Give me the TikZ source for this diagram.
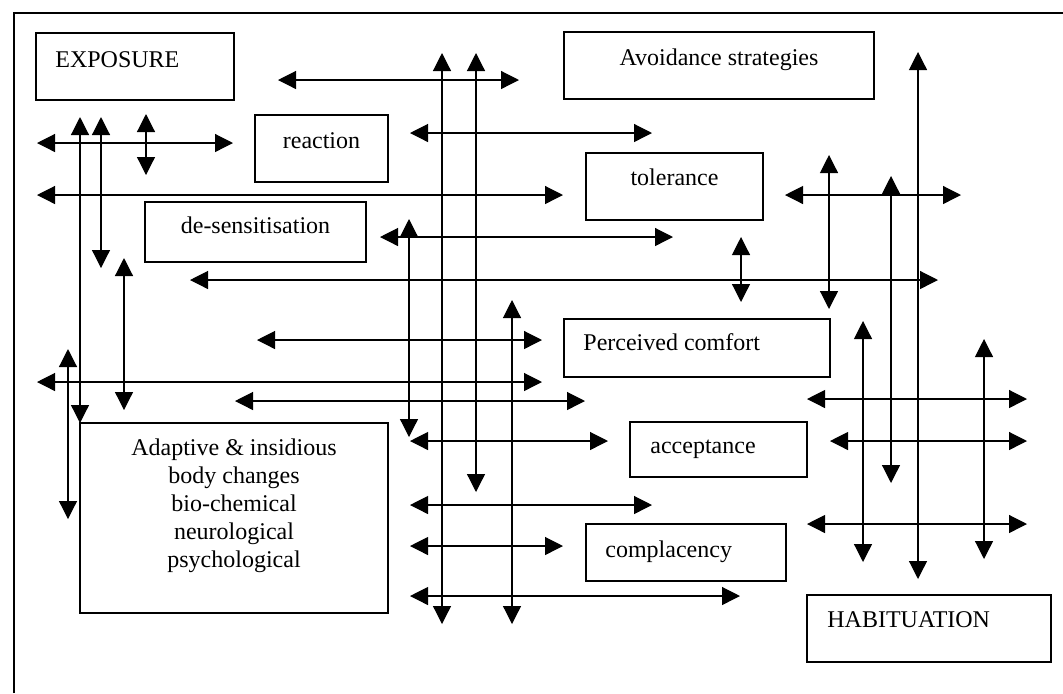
\documentclass[tikz,border=0pt]{standalone}
\usepackage{fontspec}
\setmainfont{Liberation Serif}
\usetikzlibrary{arrows.meta}
\begin{document}
\begin{tikzpicture}[x=0.5pt,y=-0.5pt,
  box/.style={draw, line width=0.7pt, inner sep=0pt, outer sep=0pt},
  txt/.style={inner sep=0pt, font=\fontsize{12pt}{14pt}\selectfont},
  arr/.style={line width=0.6pt, {Triangle[length=9pt,width=9pt]}-{Triangle[length=9pt,width=9pt]}},
  frame/.style={line width=0.8pt}]
\useasboundingbox (0,0) rectangle (1063,693);
% outer frame (right and bottom sides lie outside the picture)
\draw[frame] (14,693) -- (14,13) -- (1063,13);
% boxes
\node[box, minimum width=99pt,  minimum height=33.5pt] (exposure)  at (135,66.5) {};
\node[box, minimum width=66.5pt,minimum height=33.5pt] (reaction)  at (321.5,148.5) {};
\node[box, minimum width=110.5pt,minimum height=30pt]  (desens)    at (255.5,232) {};
\node[box, minimum width=155pt, minimum height=33.5pt] (avoid)     at (719,65.5) {};
\node[box, minimum width=88.5pt,minimum height=33.5pt] (tolerance) at (674.5,186.5) {};
\node[box, minimum width=133pt, minimum height=29pt]   (comfort)   at (697,348) {};
\node[box, minimum width=88.5pt,minimum height=27.5pt] (accept)    at (718.5,449.5) {};
\node[box, minimum width=100pt, minimum height=28.5pt] (complac)   at (686,552.5) {};
\node[box, minimum width=122pt, minimum height=33.5pt] (habit)     at (929,628.5) {};
\node[box, minimum width=154pt, minimum height=95pt]   (adapt)     at (234,518) {};
% texts
\node[txt, anchor=base west] (t-exposure) at (55,67) {EXPOSURE};
\node[txt, anchor=base] (t-reaction) at (321.5,148) {reaction};
\node[txt, anchor=base] (t-desens) at (255.5,233) {de-sensitisation};
\node[txt, anchor=base] (t-avoid) at (719,65) {Avoidance strategies};
\node[txt, anchor=base] (t-tolerance) at (674.5,185) {tolerance};
\node[txt, anchor=base west] (t-comfort) at (583,350) {Perceived comfort};
\node[txt, anchor=base west] (t-accept) at (650,453) {acceptance};
\node[txt, anchor=base west] (t-complac) at (605,557) {complacency};
\node[txt, anchor=base west] (t-habit) at (827,627) {HABITUATION};
\node[txt, anchor=base] (t-a1) at (234,455) {Adaptive \& insidious};
\node[txt, anchor=base] (t-a2) at (234,483) {body changes};
\node[txt, anchor=base] (t-a3) at (234,511) {bio-chemical};
\node[txt, anchor=base] (t-a4) at (234,539) {neurological};
\node[txt, anchor=base] (t-a5) at (234,567) {psychological};
% horizontal double arrows: y / x-left / x-right
\foreach \y/\a/\b in {80/278/519, 143/37/233, 133/410/652, 195/37/563,
  237/380/673, 280/190/938, 340/257/542, 382/37/542, 401/235/585,
  441/410/608, 399/807/1027, 441/830/1027, 195/785/961, 505/410/652,
  546/410/563, 596/410/740, 524/807/1027}
  \draw[arr] (\a,\y) -- (\b,\y);
% vertical double arrows: x / y-top / y-bottom
\foreach \x/\a/\b in {80/117/423, 101/117/268, 146/114/175, 124/258/410,
  68/349/519, 442/53/624, 476/53/492, 409/219/437, 512/300/624,
  741/237/302, 829/155/309, 891/176/483, 918/52/579, 863/321/562,
  984/339/559}
  \draw[arr] (\x,\a) -- (\x,\b);
\end{tikzpicture}
\end{document}
